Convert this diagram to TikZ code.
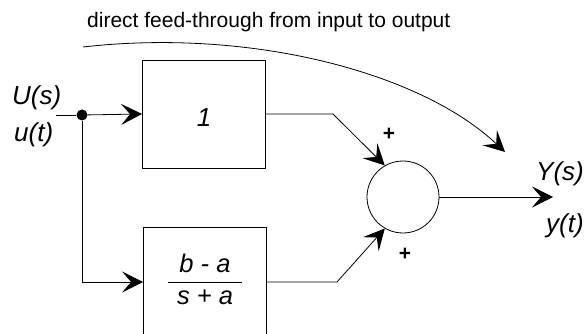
\documentclass[tikz,border=0pt]{standalone}
\usepackage{fontspec}
\setmainfont{Liberation Sans}
\usepackage{tikz}
\usetikzlibrary{arrows.meta, positioning}
\newcommand{\sig}[1]{\textit{#1}}

\begin{document}
\begin{tikzpicture}[
    x=1pt, y=-1pt,
    >={Stealth[length=21pt, width=21pt, inset=9pt]},
    block/.style={draw, rectangle, line width=0.8pt, minimum width=123pt, inner sep=0pt},
    junction/.style={draw, circle, line width=0.8pt, minimum size=72pt, inner sep=0pt},
    label/.style={draw=none, fill=none, inner sep=0pt, font=\fontsize{26}{30}\selectfont},
    sign/.style={draw=none, inner sep=0pt, font=\fontsize{21}{24}\selectfont\bfseries}
  ]
    \def\edgewidth{0.8pt}
  \useasboundingbox (0,0) rectangle (584,334);
  \node[label, anchor=base west, font=\fontsize{21}{25}\selectfont] (title) at (87,28) {direct feed-through from input to output};
  \node[block, minimum height=108pt, text height=25pt, font=\fontsize{26}{31}\selectfont] (one) at (204,114) {\sig{1}};
  \node[block, minimum height=110pt, font=\fontsize{25.5}{30}\selectfont] (filt) at (205,282)
    {\renewcommand{\arraystretch}{1.07}\setlength{\tabcolsep}{9pt}\begin{tabular}{c}\sig{b - a}\\\hline\sig{s + a}\end{tabular}};
  \node[junction] (sum) at (403,197) {};
  \node[circle, fill, inner sep=0pt, minimum size=11pt] (split) at (82,115) {};
  \coordinate (in) at (56,115);
  \coordinate (out) at (553,197);
  \coordinate (fstart) at (83,47);
  \coordinate (fend) at (505,152);
  \node[label, anchor=base west] (Us) at (12,105) {\sig{U(s)}};
  \node[label, anchor=base west] (ut) at (14,142) {\sig{u(t)}};
  \node[label, anchor=base west] (Ys) at (536,181) {\sig{Y(s)}};
  \node[label, anchor=base west] (yt) at (546,233) {\sig{y(t)}};
  \node[sign] (p1) at (389,134) {+};
  \node[sign] (p2) at (405,254) {+};

  \draw[line width = \edgewidth] (in) -- (split);
  \draw[->, line width = \edgewidth] (split) -- (one.west);
  \draw[->, line width = \edgewidth] (split) |- (filt.west);
  \draw[->, line width = \edgewidth] (one.east) -- (333,114) -- (sum.120);
  \draw[->, line width = \edgewidth] (filt.east) -- (337,282) -- (sum.240);
  \draw[->, line width = \edgewidth] (sum.east) -- (out);
  \draw[->, line width = \edgewidth] (fstart) .. controls (250,28) and (420,72) .. (fend);
  \end{tikzpicture}
\end{document}
